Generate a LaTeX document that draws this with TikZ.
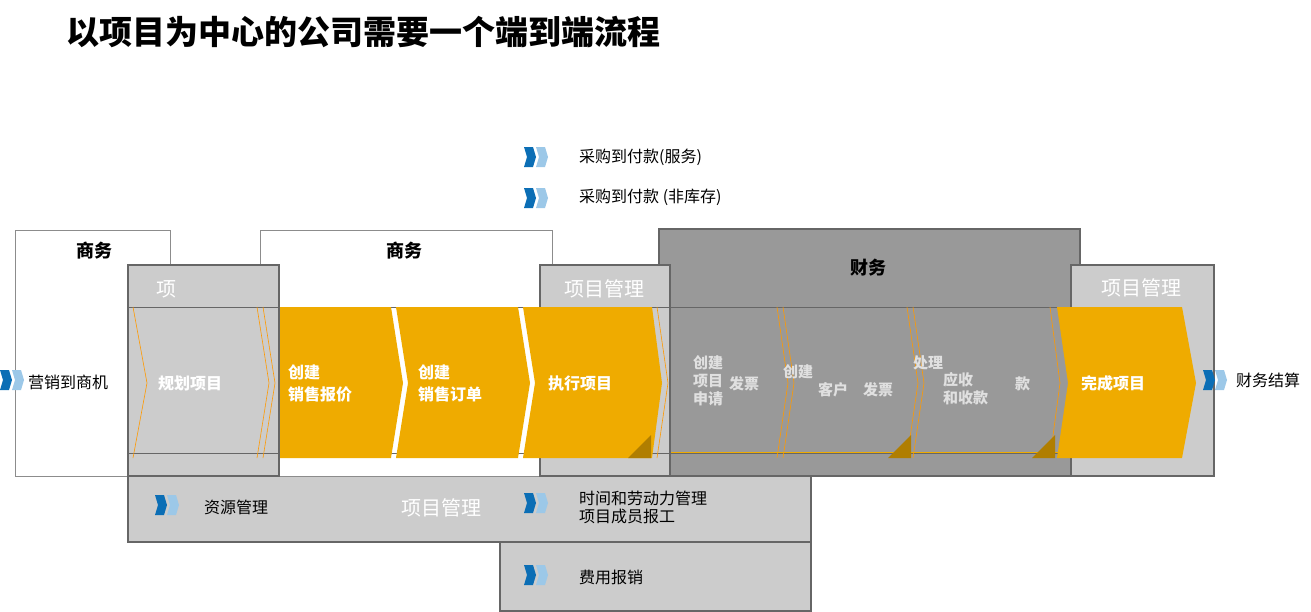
\documentclass[tikz,border=0pt]{standalone}
\usepackage{fontspec}
\setmainfont{Noto Sans CJK SC}
\begin{document}
\begin{tikzpicture}[x=1pt,y=-1pt,
  lab/.style={font=\fontsize{16}{18}\selectfont,inner sep=0pt,anchor=west,align=left},
  wlab/.style={font=\bfseries\fontsize{16}{22}\selectfont,text=white,inner sep=0pt,anchor=west,align=left},
  glab/.style={font=\bfseries\fontsize{15}{18}\selectfont,text=black!12,inner sep=0pt,anchor=west,align=left},
  hdr/.style={font=\fontsize{20}{22}\selectfont,text=white,inner sep=0pt},
  bhdr/.style={font=\bfseries\fontsize{18}{20}\selectfont,inner sep=0pt},
  gbox/.style={fill=black!20,draw=black!60,line width=1.5pt},
  wbox/.style={fill=white,draw=black!45,line width=1pt},
  oline/.style={draw=orange!80!yellow,line width=0.6pt}]
\definecolor{org}{HTML}{EFAB00}
\definecolor{dorg}{HTML}{B07E00}
\definecolor{dblue}{HTML}{0B6EB5}
\definecolor{lblue}{HTML}{9CC8E8}
\newcommand{\icon}[2]{%
  \fill[dblue] (#1,#2-10)--(#1+9,#2-10)--(#1+12,#2)--(#1+9,#2+10)--(#1,#2+10)--(#1+3,#2)--cycle;
  \fill[lblue] (#1+12,#2-10)--(#1+21,#2-10)--(#1+24,#2)--(#1+21,#2+10)--(#1+12,#2+10)--(#1+15,#2)--cycle;}
\useasboundingbox (0,0) rectangle (1311,611);
\node[font=\bfseries\fontsize{33}{35}\selectfont,anchor=west,inner sep=0pt] (title) at (66,32) {以项目为中心的公司需要一个端到端流程};
% legend
\icon{524}{157}\node[lab] (l1) at (579,157) {采购到付款(服务)};
\icon{524}{198}\node[lab] (l2) at (579,197) {采购到付款 (非库存)};
% bottom boxes
\draw[gbox] (500,542) rectangle (811,611);
\draw[gbox] (128,476) rectangle (811,542);
% white boxes
\draw[wbox] (15,230) rectangle (170,476);
\draw[wbox] (260,230) rectangle (552,476);
% finance box
\draw[fill=black!40,draw=black!60,line width=1.5pt] (659,229) rectangle (1080,476);
% gray boxes
\draw[gbox] (128,265) rectangle (279,476);
\draw[gbox] (540,265) rectangle (670,476);
\draw[gbox] (1071,265) rectangle (1214,476);
\fill[black!40] (671,307) rectangle (1069,475);
\fill[white] (280.8,458) rectangle (538.8,474.5);
% lines
\draw[black!60,line width=1pt] (128,307) -- (1071,307);
\draw[black!60,line width=1pt] (128,453) -- (1071,453);
% chevrons
\draw[oline] (133,307)--(147,383)--(133,458);
\draw[oline] (257,307)--(269,383)--(257,458);
\draw[oline] (263,307)--(275,383)--(263,458);
\fill[org] (280,307)--(391,307)--(403,383)--(391,458)--(280,458)--cycle;
\fill[org] (396,307)--(518,307)--(530,383)--(518,458)--(396,458)--(408,383)--cycle;
\fill[org] (523,307)--(652,307)--(662,383)--(652,458)--(523,458)--(535,383)--cycle;
\draw[oline] (657,307)--(668,383)--(657,458);
\draw[oline] (777,307)--(788,383)--(777,458);
\draw[oline] (783,307)--(794,383)--(783,458);
\draw[oline] (907,307)--(918,383)--(907,458);
\draw[oline] (913,307)--(924,383)--(913,458);
\draw[oline] (1050,307)--(1060,383)--(1050,458);
\fill[org] (1057,307)--(1182,307)--(1196,383)--(1182,458)--(1057,458)--(1068,383)--cycle;
\draw[org,line width=1pt] (671,452) -- (1060,452);
\fill[dorg] (628,458)--(651,435)--(651,458)--cycle;
\fill[dorg] (888,458)--(911,435)--(911,458)--cycle;
\fill[dorg] (1032,458)--(1055,435)--(1055,458)--cycle;
% headers
\node[bhdr] (h1) at (94,251) {商务};
\node[bhdr] (h2) at (404,251) {商务};
\node[bhdr] (h3) at (868,268) {财务};
\node[hdr] (h4) at (166,289) {项};
\node[hdr] (h5) at (604,289) {项目管理};
\node[hdr] (h6) at (1141,288) {项目管理};
\node[hdr] (h7) at (441,508) {项目管理};
% step labels
\node[wlab] (s1) at (158,383) {规划项目};
\node[wlab] (s2) at (288,383) {创建\\销售报价};
\node[wlab] (s3) at (418,383) {创建\\销售订单};
\node[wlab] (s4) at (548,383) {执行项目};
\node[wlab] (s9) at (1081,383) {完成项目};
\node[glab] (s5) at (693,381) {创建\\项目\\申请};
\node[glab] (s5b) at (729,384) {发票};
\node[glab] (s6) at (783,372) {创建};
\node[glab] (s6b) at (818,390) {客户};
\node[glab] (s6c) at (863,390) {发票};
\node[glab] (s7) at (913,363) {处理};
\node[glab] (s7b) at (943,389) {应收\\和收款};
\node[glab] (s7c) at (1015,384) {款};
% side labels
\icon{0}{380}\node[lab] (e1) at (28,382) {营销到商机};
\icon{1203}{380}\node[lab] (e2) at (1236,380) {财务结算};
\icon{155}{505}\node[lab] (r1) at (204,507) {资源管理};
\icon{524}{503}\node[lab] (r2) at (579,507) {时间和劳动力管理\\项目成员报工};
\icon{524}{575}\node[lab] (r3) at (579,577) {费用报销};
\end{tikzpicture}
\end{document}
